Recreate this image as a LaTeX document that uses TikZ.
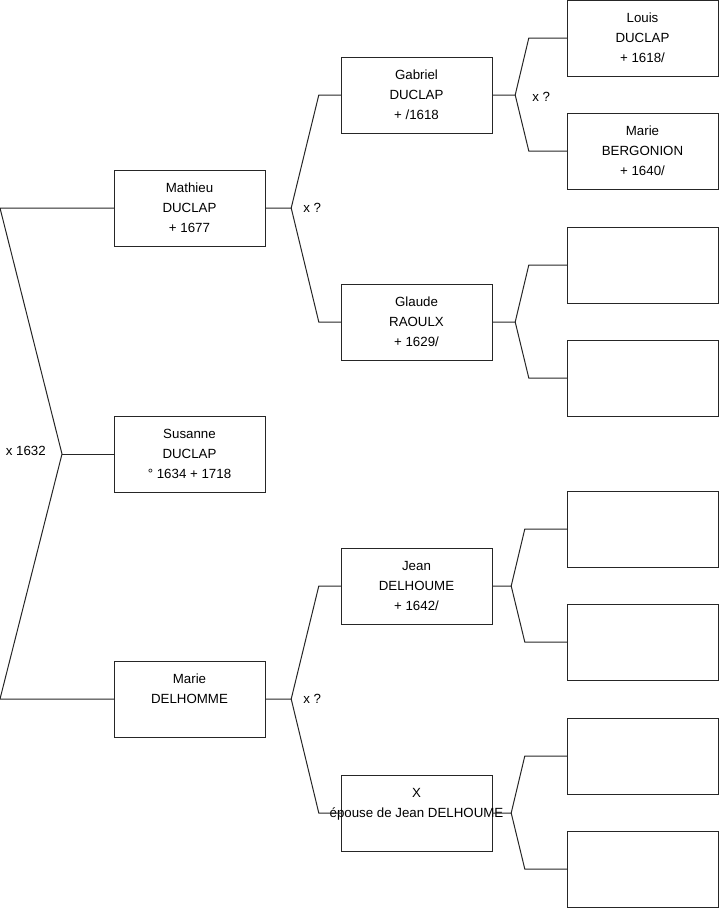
\documentclass[tikz,border=0pt]{standalone}
\usepackage{fontspec}
\setmainfont{Liberation Sans}
\usetikzlibrary{positioning}

\begin{document}
\begin{tikzpicture}[x=1pt, y=-1pt,
    person/.style={draw=black!85, fill=white, minimum width=151pt, minimum height=76pt,
                   inner sep=0pt, align=center, font=\fontsize{13.3}{20}\selectfont},
    link/.style={draw=black!85, line width=1pt},
    union/.style={inner sep=0pt, font=\fontsize{13.3}{15}\selectfont}
  ]
    \useasboundingbox (0,0) rectangle (719,908);

    % generation 1
    \node[person] (mathieu) at (189.5,208) {Mathieu\\DUCLAP\\+ 1677};
    \node[person] (susanne) at (189.5,454) {Susanne\\DUCLAP\\° 1634 + 1718};
    \node[person] (marie)   at (189.5,699) {Marie\\DELHOMME\\\mbox{}};

    % generation 2
    \node[person] (gabriel) at (416.5,95)  {Gabriel\\DUCLAP\\+ /1618};
    \node[person] (glaude)  at (416.5,322) {Glaude\\RAOULX\\+ 1629/};
    \node[person] (jean)    at (416.5,586) {Jean\\DELHOUME\\+ 1642/};
    \node[person] (epouse)  at (416.5,813) {X\\\makebox[0pt]{épouse de Jean DELHOUME}\\\mbox{}};

    % generation 3
    \node[person] (louis)     at (642.5,38)  {Louis\\DUCLAP\\+ 1618/};
    \node[person] (bergonion) at (642.5,151) {Marie\\BERGONION\\+ 1640/};
    \node[person] (glaudeF)   at (642.5,265) {};
    \node[person] (glaudeM)   at (642.5,378) {};
    \node[person] (jeanF)     at (642.5,529) {};
    \node[person] (jeanM)     at (642.5,642) {};
    \node[person] (epouseF)   at (642.5,756) {};
    \node[person] (epouseM)   at (642.5,869) {};

    % root fork
    \coordinate (root) at (62,454);
    \coordinate (rtop) at (0,208);
    \coordinate (rbot) at (0,699);
    \draw[link] (mathieu.west) -- (rtop) -- (root) -- (rbot) -- (marie.west);
    \draw[link] (root) -- (susanne.west);
    \node[union, left=16pt of root, yshift=3pt] (xroot) {x 1632};

    % forks of generation 1
    \draw[link] (mathieu.east) -- ++(26,0) coordinate (fm) -- ([xshift=-22pt]gabriel.west) -- (gabriel.west);
    \draw[link] (fm) -- ([xshift=-22pt]glaude.west) -- (glaude.west);
    \node[union, right=12pt of fm] (xfm) {x ?};

    \draw[link] (marie.east) -- ++(26,0) coordinate (fd) -- ([xshift=-22pt]jean.west) -- (jean.west);
    \draw[link] (fd) -- ([xshift=-22pt]epouse.west) -- (epouse.west);
    \node[union, right=12pt of fd] (xfd) {x ?};

    % forks of generation 2
    \draw[link] (gabriel.east) -- ++(23,0) coordinate (fg) -- ([xshift=-38pt]louis.west) -- (louis.west);
    \draw[link] (fg) -- ([xshift=-38pt]bergonion.west) -- (bergonion.west);
    \node[union, right=17pt of fg, yshift=-2pt] (xfg) {x ?};

    \draw[link] (glaude.east) -- ++(23,0) coordinate (fr) -- ([xshift=-38pt]glaudeF.west) -- (glaudeF.west);
    \draw[link] (fr) -- ([xshift=-38pt]glaudeM.west) -- (glaudeM.west);

    \draw[link] (jean.east) -- ++(19,0) coordinate (fj) -- ([xshift=-42pt]jeanF.west) -- (jeanF.west);
    \draw[link] (fj) -- ([xshift=-42pt]jeanM.west) -- (jeanM.west);

    \draw[link] (epouse.east) -- ++(19,0) coordinate (fe) -- ([xshift=-42pt]epouseF.west) -- (epouseF.west);
    \draw[link] (fe) -- ([xshift=-42pt]epouseM.west) -- (epouseM.west);
\end{tikzpicture}
\end{document}
